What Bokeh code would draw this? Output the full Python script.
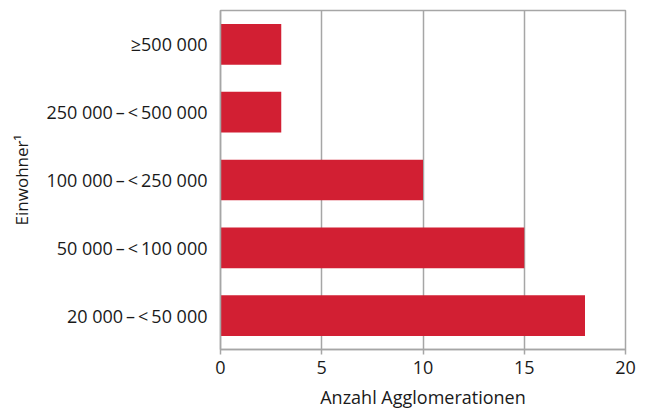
from bokeh.plotting import figure
from bokeh.embed import file_html
from bokeh.resources import INLINE
from bokeh.models import ColumnDataSource, FixedTicker, Range1d

categories = ["20 000\u2009–\u2009<\u200950 000", "50 000\u2009–\u2009<\u2009100 000",
              "100 000\u2009–\u2009<\u2009250 000", "250 000\u2009–\u2009<\u2009500 000",
              "≥500 000"]
values = [18, 15, 10, 3, 3]
x_ticks = [0, 5, 10, 15, 20]

src = ColumnDataSource(dict(cat=categories, val=values))

FONT = "Open Sans"
GRAY = "#a6a6a6"

p = figure(y_range=categories, x_range=Range1d(0, 20), width=641, height=412,
           output_backend="svg", toolbar_location=None,
           min_border_left=220, min_border_right=16, min_border_top=10, min_border_bottom=63)

p.hbar(y="cat", right="val", left=0, height=0.6, source=src, color="#D21F33", line_color=None)

p.outline_line_color = GRAY
p.outline_line_width = 1.5

p.xgrid.ticker = FixedTicker(ticks=x_ticks)
p.xgrid.grid_line_color = GRAY
p.xgrid.grid_line_width = 1.5
p.ygrid.grid_line_color = None

p.xaxis.ticker = FixedTicker(ticks=x_ticks)
p.xaxis.axis_line_color = GRAY
p.xaxis.axis_line_width = 1.5
p.xaxis.major_tick_line_color = GRAY
p.xaxis.major_tick_line_width = 1.5
p.xaxis.major_tick_out = 5
p.xaxis.major_tick_in = 0
p.xaxis.minor_tick_line_color = None
p.xaxis.major_label_text_font = FONT
p.xaxis.major_label_text_font_size = "18px"
p.xaxis.major_label_text_color = "#1a1a1a"
p.xaxis.major_label_standoff = 6
p.xaxis.axis_label = "Anzahl Agglomerationen"
p.xaxis.axis_label_text_font = FONT
p.xaxis.axis_label_text_font_size = "18px"
p.xaxis.axis_label_text_font_style = "normal"
p.xaxis.axis_label_text_color = "#1a1a1a"
p.xaxis.axis_label_standoff = 8

p.yaxis.axis_line_color = GRAY
p.yaxis.axis_line_width = 1.5
p.yaxis.major_tick_line_color = None
p.yaxis.minor_tick_line_color = None
p.yaxis.major_label_text_font = FONT
p.yaxis.major_label_text_font_size = "18px"
p.yaxis.major_label_text_color = "#1a1a1a"
p.yaxis.major_label_standoff = 7
p.yaxis.axis_label = "Einwohner¹"
p.yaxis.axis_label_text_font = FONT
p.yaxis.axis_label_text_font_size = "17px"
p.yaxis.axis_label_text_font_style = "normal"
p.yaxis.axis_label_text_color = "#1a1a1a"
p.yaxis.axis_label_standoff = 10

open("out.html", "w").write(file_html(p, INLINE))
